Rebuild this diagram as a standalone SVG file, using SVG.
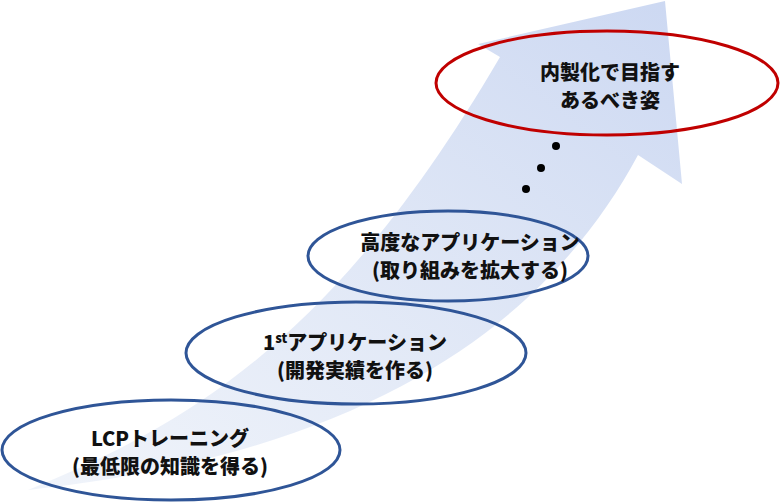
<svg xmlns="http://www.w3.org/2000/svg" width="780" height="504" viewBox="0 0 780 504">
<style>
text{font-family:"Noto Sans CJK JP","Liberation Sans",sans-serif;font-weight:900;font-size:20px;fill:#111;text-anchor:middle}
.b{fill:none;stroke:#2F5597;stroke-width:3}
.r{fill:none;stroke:#C00000;stroke-width:3}
</style>
<defs>
<linearGradient id="g" x1="0" y1="1" x2="1" y2="0">
<stop offset="0" stop-color="#DAE3F3" stop-opacity="0.4"/>
<stop offset="1" stop-color="#CCD8F2"/>
</linearGradient>
</defs>
<g id="arrow">
<path d="M28,490 C200,420 340,330 500,57 L478,44 L665,1 L682,184 L638,155 C560,300 400,450 28,490 Z" fill="url(#g)"/>
</g>
<g id="n1"><ellipse class="b" cx="171" cy="450" rx="169" ry="50"/>
<text x="170" y="446">LCPトレーニング</text><text x="170" y="474">(最低限の知識を得る)</text></g>
<g id="n2"><ellipse class="b" cx="356" cy="353" rx="170" ry="51"/>
<text x="355" y="350">1<tspan font-size="13" dy="-7">st</tspan><tspan dy="7">アプリケーション</tspan></text><text x="355" y="378">(開発実績を作る)</text></g>
<g id="n3"><ellipse class="b" cx="448" cy="256" rx="140" ry="45"/>
<text x="470" y="250">高度なアプリケーション</text><text x="470" y="278">(取り組みを拡大する)</text></g>
<g id="n4"><ellipse class="r" cx="607" cy="83" rx="171" ry="52"/>
<text x="610" y="80">内製化で目指す</text><text x="610" y="108">あるべき姿</text></g>
<g id="dots" fill="#000"><circle cx="556" cy="146" r="4"/><circle cx="541" cy="168" r="4"/><circle cx="526" cy="189" r="4"/></g>
</svg>
